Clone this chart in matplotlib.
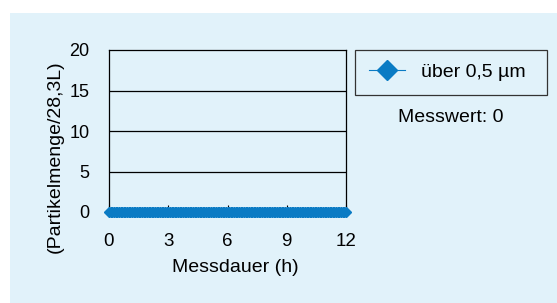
import matplotlib
matplotlib.use('Agg')
import matplotlib.pyplot as plt
from matplotlib.patches import Rectangle
import numpy as np

plt.rcParams['font.family'] = ['Liberation Sans', 'DejaVu Sans']

# %%  Data

interval_h = 1 / 12                       # one reading every 5 minutes
hours      = np.arange(0, 12 + interval_h / 2, interval_h)
counts     = [0] * len(hours)             # every reading was 0

x_ticks  = [0, 3, 6, 9, 12]
y_ticks  = [0, 5, 10, 15, 20]
series   = 'über 0,5 µm'
note     = 'Messwert: 0'

BLUE = '#0a7bc4'
BG   = '#e1f2fa'

# %%  Plot

fig = plt.figure(figsize=(5.57, 3.03), dpi=100)
fig.patch.set_facecolor('white')
fig.add_artist(Rectangle((10 / 557, 0), 1, 1 - 13 / 303, transform=fig.transFigure,
                         facecolor=BG, edgecolor='none', zorder=-10))

ax = fig.add_axes([109 / 557, 91 / 303, 237 / 557, 162 / 303])
ax.set_facecolor(BG)

ax.plot(hours, counts, color=BLUE, lw=1, marker='D', ms=4.6, mec=BLUE, mfc=BLUE,
        clip_on=False, zorder=5, label=series)

ax.set_xlim(0, 12)
ax.set_ylim(0, 20)
ax.set_xticks(x_ticks)
ax.set_yticks(y_ticks)
ax.tick_params(axis='x', direction='in', length=5, width=0.8, labelsize=13.5, pad=15)
ax.tick_params(axis='y', length=0, labelsize=13, pad=14)
for y in y_ticks[1:-1]:
    ax.axhline(y, color='black', lw=0.9, zorder=1)
for s in ax.spines.values():
    s.set_linewidth(0.9)
    s.set_color('black')

fig.text(235 / 557, 1 - 268 / 303, 'Messdauer (h)', ha='center', va='center', fontsize=14)
fig.text(55 / 557, 1 - 157 / 303, '(Partikelmenge/28,3L)', rotation=90,
         ha='center', va='center', fontsize=14)

# legend box drawn by hand so it gets the reference's width
ax.add_patch(Rectangle((355 / 557, 1 - 95 / 303), 192 / 557, 45 / 303,
                       transform=fig.transFigure, facecolor=BG,
                       edgecolor='#333333', lw=0.9, zorder=1, clip_on=False))
leg = ax.legend(loc='upper left', bbox_to_anchor=(355 / 557, 1 - 50 / 303),
                bbox_transform=fig.transFigure, frameon=False,
                fontsize=14, markerscale=2.3, handlelength=1.85, handletextpad=0.85,
                borderpad=0.7, borderaxespad=0)
leg.set_zorder(10)
for h in leg.get_lines():
    h.set_linewidth(0.8)

fig.text(451 / 557, 1 - 117 / 303, note, ha='center', va='center', fontsize=14)

fig.savefig('out.png', dpi=100)
